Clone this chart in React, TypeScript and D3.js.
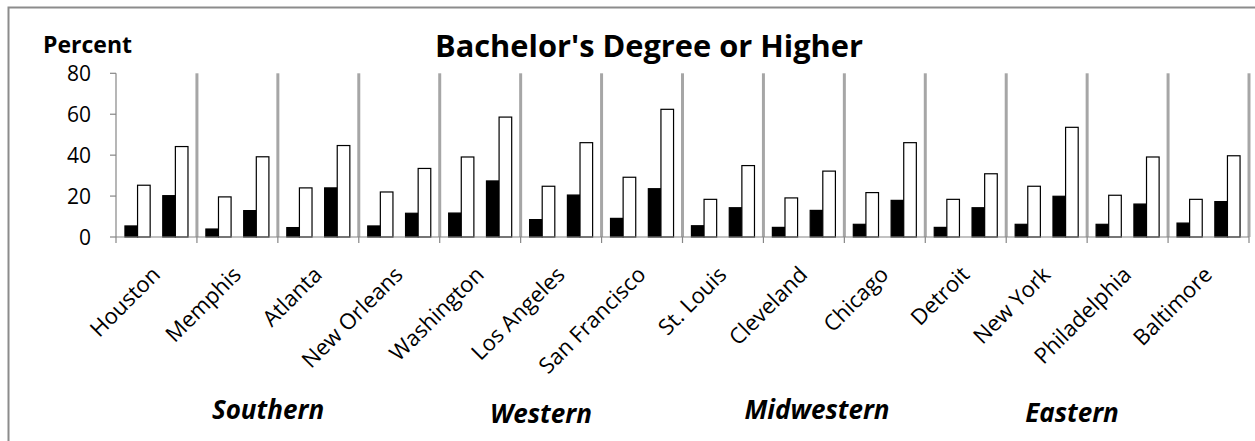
import React from "react";
import * as d3 from "d3";

const cities = [
  "Houston", "Memphis", "Atlanta", "New Orleans", "Washington", "Los Angeles",
  "San Francisco", "St. Louis", "Cleveland", "Chicago", "Detroit", "New York",
  "Philadelphia", "Baltimore",
];
// four series per city: dark, light, dark, light (middle slot in each group is empty)
const seriesDark1 = [5.4, 3.9, 4.6, 5.4, 11.7, 8.5, 9.1, 5.5, 4.7, 6.2, 4.7, 6.2, 6.2, 6.8];
const seriesLight1 = [25.3, 19.6, 24.0, 22.0, 39.1, 24.8, 29.2, 18.4, 19.1, 21.7, 18.4, 24.8, 20.4, 18.4];
const seriesDark2 = [20.2, 12.9, 24.0, 11.6, 27.4, 20.5, 23.6, 14.3, 13.0, 17.9, 14.3, 19.9, 16.1, 17.3];
const seriesLight2 = [44.2, 39.2, 44.7, 33.5, 58.6, 46.1, 62.4, 34.9, 32.2, 46.1, 30.9, 53.6, 39.1, 39.7];
const yTicks = [0, 20, 40, 60, 80];
const regions = ["Southern", "Western", "Midwestern", "Eastern"];
const regionX = [268, 541, 817, 1072];
const regionY = [419, 423, 419, 422];

const W = 1255, H = 441;
const FONT = "'Open Sans', 'DejaVu Sans', sans-serif";

export default function App() {
  const x = d3.scaleBand<string>().domain(cities).range([116, 1249]).paddingInner(0).paddingOuter(0);
  const y = d3.scaleLinear().domain([0, 80]).range([237, 73.3]);
  const sub = d3.scaleBand<number>().domain([0, 1, 2, 3, 4]).range([0, x.bandwidth()]).paddingInner(0).paddingOuter(0.71);
  const slots = [
    { vals: seriesDark1, slot: 0, fill: "#000" },
    { vals: seriesLight1, slot: 1, fill: "#fff" },
    { vals: seriesDark2, slot: 3, fill: "#000" },
    { vals: seriesLight2, slot: 4, fill: "#fff" },
  ];
  const bounds = d3.range(cities.length + 1).map((i) => 116 + i * x.step());

  return (
    <svg width={W} height={H} style={{ position: "fixed", left: 0, top: 0, background: "#fff" }} fontFamily={FONT}>
      <rect x={0} y={0} width={W} height={H} fill="#fff" />
      <rect x={8.5} y={7.5} width={1400} height={600} fill="none" stroke="#8c8c8c" strokeWidth={2} />
      {/* separators */}
      {bounds.slice(1).map((bx, i) => (
        <line key={"s" + i} x1={bx} x2={bx} y1={y(80)} y2={y(0)} stroke="#a6a6a6" strokeWidth={3} />
      ))}
      {/* bars */}
      {slots.map((s, si) =>
        cities.map((c, i) => (
          <rect
            key={si + "-" + i}
            x={(x(c) as number) + (sub(s.slot) as number)}
            y={y(s.vals[i])}
            width={sub.bandwidth()}
            height={y(0) - y(s.vals[i])}
            fill={s.fill}
            stroke="#000"
            strokeWidth={1.2}
          />
        ))
      )}
      {/* y axis */}
      <line x1={116} x2={116} y1={y(80)} y2={y(0)} stroke="#868686" strokeWidth={1.2} />
      {yTicks.map((t) => (
        <g key={"yt" + t}>
          <line x1={110} x2={116} y1={y(t)} y2={y(t)} stroke="#868686" strokeWidth={1.2} />
          <text x={91} y={y(t)} dy="0.36em" textAnchor="end" fontSize={21} fill="#000">{t}</text>
        </g>
      ))}
      {/* x axis */}
      <line x1={116} x2={1249} y1={y(0)} y2={y(0)} stroke="#868686" strokeWidth={1.2} />
      {bounds.map((bx, i) => (
        <line key={"xt" + i} x1={bx} x2={bx} y1={y(0)} y2={y(0) + 6} stroke="#868686" strokeWidth={1.2} />
      ))}
      {cities.map((c) => {
        const cx = (x(c) as number) + x.bandwidth() / 2 + 5;
        const cy = 276;
        return (
          <text key={"cl" + c} x={cx} y={cy} transform={`rotate(-45 ${cx} ${cy})`} textAnchor="end" fontSize={22} fill="#000">
            {c}
          </text>
        );
      })}
      {/* titles */}
      <text x={649} y={57} textAnchor="middle" fontSize={31} fontWeight="bold" textLength={428} lengthAdjust="spacingAndGlyphs">
        Bachelor's Degree or Higher
      </text>
      <text x={43} y={53} fontSize={23} fontWeight="bold">Percent</text>
      {regions.map((r, i) => (
        <text key={r} x={regionX[i]} y={regionY[i]} textAnchor="middle" fontSize={26} fontWeight="bold" fontStyle="italic">
          {r}
        </text>
      ))}
    </svg>
  );
}
